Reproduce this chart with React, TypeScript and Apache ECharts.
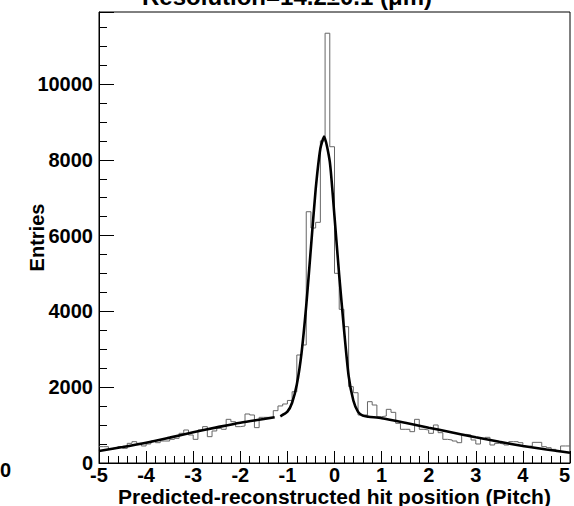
import React, { useEffect, useRef } from "react";
import * as echarts from "echarts";

const TITLE = "Resolution=14.2±0.1 (μm)";
const X_TITLE = "Predicted-reconstructed hit position (Pitch)";
const Y_TITLE = "Entries";
const STRAY_LABEL = "0";

const X_MIN = -5;
const X_MAX = 5;
const Y_MAX = 11900;
const Y_TICKS = [0, 2000, 4000, 6000, 8000, 10000];

const BIN_LO = -5;
const BIN_WIDTH = 0.1;
const COUNTS = [
  431, 431, 360, 387, 431, 387, 519, 563, 519, 449,
  501, 580, 536, 580, 580, 624, 650, 783, 871, 739,
  624, 871, 959, 695, 845, 915, 889, 1152, 1090, 959,
  977, 1293, 1267, 933, 1205, 1205, 1205, 1381, 1505, 1557,
  1650, 1880, 2850, 3114, 6630, 6200, 6350, 8500, 11340, 8345,
  5005, 4055, 3597, 2014, 1855, 1267, 1267, 1618, 1530, 1222,
  1240, 1416, 1337, 1047, 889, 889, 827, 1152, 889, 871,
  783, 1003, 800, 624, 607, 580, 536, 756, 739, 607,
  501, 650, 677, 475, 519, 501, 475, 563, 563, 536,
  431, 449, 545, 545, 431, 404, 360, 299, 449, 449,
];

const FIT_LEFT_X = [-5, -4.5, -4, -3.5, -3, -2.5, -2, -1.5, -1.27];
const FIT_LEFT_Y = [317, 420, 536, 670, 810, 940, 1064, 1160, 1206];

const FIT_PEAK_X = [
  -1.15, -1.0, -0.9, -0.8, -0.7, -0.6, -0.5, -0.4, -0.3, -0.22, -0.1, 0.0,
  0.1, 0.2, 0.3, 0.4, 0.5, 0.6, 0.72, 1, 1.5, 2, 2.5, 3, 3.5, 4, 4.5, 5,
];
const FIT_PEAK_Y = [
  1230, 1353, 1590, 2070, 2900, 4150, 5690, 7220, 8300, 8616, 7950, 6500,
  4950, 3550, 2300, 1650, 1350, 1250, 1222, 1180, 1060, 932, 805, 678, 560, 449, 355, 272,
];

const FONT = "'Liberation Sans', Arial, Helvetica, sans-serif";

export default function App() {
  const ref = useRef<HTMLDivElement>(null);

  useEffect(() => {
    document.body.style.margin = "0";
    if (!ref.current) return;
    const chart = echarts.init(ref.current, undefined, { renderer: "svg" });

    const histData: number[][] = COUNTS.map((v, k) => [BIN_LO + k * BIN_WIDTH, v]);
    histData.push([BIN_LO + COUNTS.length * BIN_WIDTH, COUNTS[COUNTS.length - 1]]);

    const leftFit = FIT_LEFT_X.map((x, i) => [x, FIT_LEFT_Y[i]]);
    const peakFit = FIT_PEAK_X.map((x, i) => [x, FIT_PEAK_Y[i]]);

    const labelStyle = {
      color: "#000",
      fontFamily: FONT,
      fontWeight: "bold" as const,
      fontSize: 20,
      lineHeight: 17,
    };

    chart.setOption({
      animation: false,
      backgroundColor: "#fff",
      grid: {
        left: 99,
        right: 4,
        top: 12,
        bottom: 43,
        outerBoundsMode: "none",
        containLabel: false,
        show: true,
        borderColor: "#000",
        borderWidth: 1,
        backgroundColor: "transparent",
      },
      graphic: [
        {
          type: "text",
          left: "center",
          top: -16,
          style: { text: TITLE, fill: "#000", font: `bold 24px ${FONT}` },
        },
        {
          type: "text",
          left: 0,
          top: 460,
          style: { text: STRAY_LABEL, fill: "#000", font: `bold 20px ${FONT}` },
        },
      ],
      xAxis: {
        type: "value",
        min: X_MIN,
        max: X_MAX,
        interval: 1,
        name: X_TITLE,
        nameLocation: "middle",
        nameGap: 25,
        nameMoveOverlap: false,
        nameTextStyle: { ...labelStyle, fontSize: 21 },
        axisLine: { show: true, onZero: false, lineStyle: { color: "#000", width: 1 } },
        axisTick: { show: true, inside: true, length: 12, lineStyle: { color: "#000" } },
        minorTick: { show: true, splitNumber: 5, length: 7, lineStyle: { color: "#000" } },
        splitLine: { show: false },
        minorSplitLine: { show: false },
        axisLabel: { ...labelStyle, margin: 3, alignMaxLabel: "right" },
      },
      yAxis: [
        {
          type: "value",
          min: 0,
          max: Y_MAX,
          interval: 2000,
          name: Y_TITLE,
          nameLocation: "middle",
          nameRotate: 90,
          nameGap: 54,
          nameMoveOverlap: false,
          nameTextStyle: labelStyle,
          axisLine: { show: true, onZero: false, lineStyle: { color: "#000", width: 1 } },
          axisTick: { show: true, inside: true, length: 15, lineStyle: { color: "#000" } },
          splitLine: { show: false },
          axisLabel: {
            ...labelStyle,
            margin: 6,
            formatter: (v: number) => (Y_TICKS.indexOf(v) >= 0 ? String(v) : ""),
          },
        },
        {
          type: "value",
          min: 0,
          max: Y_MAX,
          interval: 500,
          position: "left",
          axisLine: { show: false, onZero: false },
          axisTick: { show: true, inside: true, length: 8, lineStyle: { color: "#000" } },
          splitLine: { show: false },
          axisLabel: { show: false },
        },
      ],
      series: [
        {
          type: "line",
          data: histData,
          step: "end",
          symbol: "none",
          lineStyle: { color: "#666", width: 1 },
          z: 2,
        },
        {
          type: "line",
          data: leftFit,
          smooth: 0.3,
          symbol: "none",
          lineStyle: { color: "#000", width: 2.6 },
          z: 3,
        },
        {
          type: "line",
          data: peakFit,
          smooth: 0.2,
          symbol: "none",
          lineStyle: { color: "#000", width: 2.6 },
          z: 3,
        },
      ],
    });

    return () => chart.dispose();
  }, []);

  return (
    <div
      ref={ref}
      style={{ position: "absolute", left: 0, top: 0, width: 574, height: 506 }}
    />
  );
}
